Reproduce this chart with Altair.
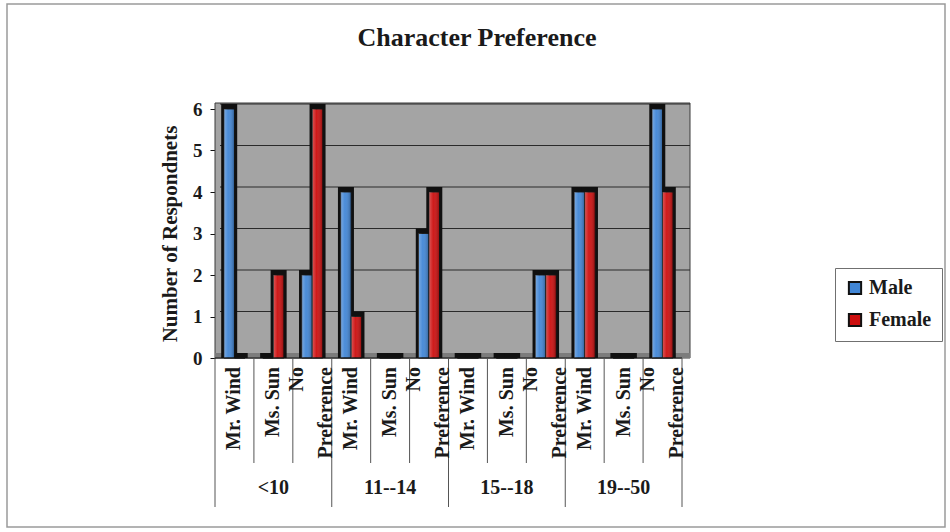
import altair as alt
import pandas as pd

# ---- data -------------------------------------------------------------
groups = ["<10", "11--14", "15--18", "19--50"]
characters = ["Mr. Wind", "Ms. Sun", "No Preference"]
male = [6, 0, 2, 4, 0, 3, 0, 0, 2, 4, 0, 6]
female = [0, 2, 6, 1, 0, 4, 0, 0, 2, 4, 0, 4]
y_ticks = [0, 1, 2, 3, 4, 5, 6]
sexes = ["Male", "Female"]
sex_colors = ["#4186d6", "#cc0e0e"]

FONT = "Liberation Serif"
W, H = 467, 249
DEPTH = 5

keys = [f"{g} | {c}" for g in groups for c in characters]
labels = [c for g in groups for c in characters]

rows = []
for i, k in enumerate(keys):
    rows.append({"key": k, "sex": "Male", "count": male[i]})
    rows.append({"key": k, "sex": "Female", "count": female[i]})
bars = pd.DataFrame(rows)

cats = pd.DataFrame({
    "key": keys,
    "label": [l.replace(" Preference", "\nPreference") for l in labels],
    "first": [i % len(characters) == 0 for i in range(len(keys))],
})
group_labels = pd.DataFrame({
    "key": [keys[i * len(characters) + 1] for i in range(len(groups))],
    "group": groups,
})
grid = pd.DataFrame({"v": y_ticks[1:]})
one = pd.DataFrame({"a": [0]})

x_scale = alt.Scale(domain=keys, paddingInner=0, paddingOuter=0)
y_scale = alt.Scale(domain=[0, 6], nice=False)
off_scale = alt.Scale(domain=sexes, paddingOuter=0.85, paddingInner=0)

X = alt.X("key:N", scale=x_scale, axis=None)
Y = alt.Y("count:Q", scale=y_scale, stack=None,
          axis=alt.Axis(values=y_ticks, tickSize=5, tickColor="#111",
                        domainColor="#111", grid=False, labelFont=FONT,
                        labelFontSize=19, labelFontWeight="bold",
                        labelColor="#1a1a1a", labelPadding=8,
                        title="Number of Respondnets", titleFont=FONT,
                        titleFontSize=21, titleFontWeight="bold",
                        titleColor="#1a1a1a", titlePadding=12))
XO = alt.XOffset("sex:N", scale=off_scale, sort=sexes)

# back wall and floor of the 3-D plot box
wall = alt.Chart(one).mark_rect(fill="#a4a4a4", stroke="#3a3a3a", strokeWidth=1).encode(
    x=alt.value(0), x2=alt.value(W + 8), y=alt.value(-6), y2=alt.value(H))
floor = alt.Chart(one).mark_rect(fill="#7c7c7c").encode(
    x=alt.value(0), x2=alt.value(W + 8), y=alt.value(H - DEPTH), y2=alt.value(H))

gridlines = alt.Chart(grid).mark_rule(color="#2a2a2a", strokeWidth=1, yOffset=-DEPTH).encode(
    y=alt.Y("v:Q", scale=y_scale), x=alt.value(DEPTH), x2=alt.value(W + 8))

# dark depth of each column, then the front face, then a shading sheen
shadow = alt.Chart(bars).mark_bar(color="#101010", width=16, xOffset=2.5,
                                  yOffset=-DEPTH, y2Offset=0).encode(
    x=X, xOffset=XO, y=Y, y2=alt.datum(0))
face = alt.Chart(bars).mark_bar(stroke="#151515", strokeWidth=1).encode(
    x=X, xOffset=XO, y=Y,
    color=alt.Color("sex:N", scale=alt.Scale(domain=sexes, range=sex_colors),
                    legend=alt.Legend(orient="none", legendX=620, legendY=159,
                                      title=None, strokeColor="#707070",
                                      fillColor="white", padding=10,
                                      labelFont=FONT, labelFontSize=20,
                                      labelFontWeight="bold", labelColor="#1a1a1a",
                                      symbolType="square", symbolSize=150,
                                      symbolStrokeColor="#111", symbolStrokeWidth=2,
                                      rowPadding=10, labelOffset=4)))
sheen = alt.Chart(bars).mark_bar(
    fill=alt.Gradient(gradient="linear", x1=0, x2=1, y1=0, y2=0,
                      stops=[alt.GradientStop(color="rgba(255,255,255,0.30)", offset=0),
                             alt.GradientStop(color="rgba(255,255,255,0.05)", offset=0.4),
                             alt.GradientStop(color="rgba(0,0,0,0.30)", offset=1)])
).encode(x=X, xOffset=XO, y=Y)

base_line = alt.Chart(one).mark_rule(color="#111", strokeWidth=1).encode(
    x=alt.value(0), x2=alt.value(W), y=alt.value(H))

# category separators below the axis (longer at age-group boundaries)
sep_cat = alt.Chart(cats).transform_filter("!datum.first").mark_rule(
    color="#555", strokeWidth=1).encode(
    x=alt.X("key:N", scale=x_scale, axis=None, bandPosition=0),
    y=alt.value(H), y2=alt.value(H + 105))
sep_grp = alt.Chart(cats).transform_filter("datum.first").mark_rule(
    color="#555", strokeWidth=1).encode(
    x=alt.X("key:N", scale=x_scale, axis=None, bandPosition=0),
    y=alt.value(H), y2=alt.value(H + 149))
sep_end = alt.Chart(cats.tail(1)).mark_rule(color="#555", strokeWidth=1).encode(
    x=alt.X("key:N", scale=x_scale, axis=None, bandPosition=1),
    y=alt.value(H), y2=alt.value(H + 149))

label_style = dict(angle=270, align="right", baseline="middle", font=FONT,
                   fontSize=20, fontWeight="bold", color="#1a1a1a",
                   lineBreak="\n", lineHeight=29)
cat_text_one = alt.Chart(cats).transform_filter(
    "indexof(datum.label, '\\n') < 0").mark_text(**label_style).encode(
    x=X, y=alt.value(H + 9), text="label:N")
# two-line labels: centre the pair of lines on the category
cat_text_two = alt.Chart(cats).transform_filter(
    "indexof(datum.label, '\\n') >= 0").mark_text(dy=-15, **label_style).encode(
    x=X, y=alt.value(H + 9), text="label:N")
grp_text = alt.Chart(group_labels).mark_text(baseline="middle", font=FONT, fontSize=20,
                                             fontWeight="bold", color="#1a1a1a").encode(
    x=X, y=alt.value(H + 130), text="group:N")

title = alt.Chart(one).mark_text(text="Character Preference", font=FONT, fontSize=26,
                                 fontWeight="bold", color="#1a1a1a",
                                 align="center", baseline="middle").encode(
    x=alt.value(262), y=alt.value(-71))

frame = alt.Chart(one).mark_rect(fillOpacity=0, stroke="#9a9a9a", strokeWidth=1.5).encode(
    x=alt.value(-208), x2=alt.value(730), y=alt.value(-105), y2=alt.value(418))

chart = alt.layer(
    frame, wall, floor, gridlines, shadow, face, sheen, base_line,
    sep_cat, sep_grp, sep_end, cat_text_one, cat_text_two, grp_text, title
).properties(
    width=W, height=H,
    padding={"left": 215, "top": 109, "right": 268, "bottom": 174},
    autosize=alt.AutoSizeParams(type="none"),
    background="white",
).configure_view(stroke=None)

chart.save("out.html", embed_options={"renderer": "svg", "actions": False})
